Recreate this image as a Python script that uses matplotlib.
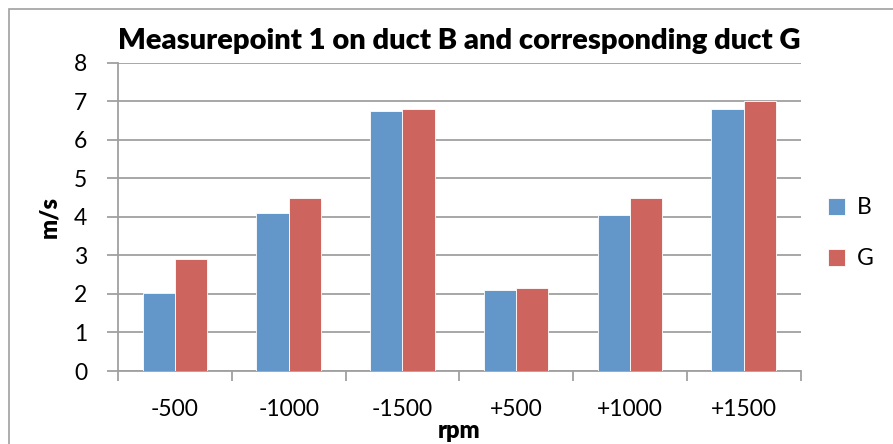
import matplotlib
matplotlib.use('Agg')
import matplotlib.pyplot as plt
from matplotlib.patches import Rectangle
import numpy as np

categories = ['-500', '-1000', '-1500', '+500', '+1000', '+1500']
b_values = [2.03, 4.10, 6.75, 2.10, 4.05, 6.80]
g_values = [2.90, 4.50, 6.80, 2.15, 4.50, 7.00]

blue = '#6396C9'
red = '#CD655E'
grey = '#A0A0A0'

plt.rcParams['font.family'] = ['Lato', 'DejaVu Sans']

fig = plt.figure(figsize=(8.93, 4.44), dpi=100)
ax = fig.add_axes([118 / 893, 1 - 371 / 444, (800.5 - 118) / 893, (371 - 62.7) / 444])

# outer chart border
fig.patches.append(Rectangle((9 / 893, -0.1), 1.2, 1.1 - 9 / 444,
                             transform=fig.transFigure, fill=False,
                             edgecolor=grey, linewidth=1.2))

x = np.arange(len(categories))
w = 0.283
ax.bar(x - w / 2, b_values, w, color=blue, edgecolor='white', linewidth=0.6, label='B', zorder=3)
ax.bar(x + w / 2, g_values, w, color=red, edgecolor='white', linewidth=0.6, label='G', zorder=3)

ax.set_xlim(-0.5, len(categories) - 0.5)
ax.set_ylim(0, 8)
ax.set_yticks(range(0, 9))
ax.yaxis.grid(True, color=grey, linewidth=1.3, zorder=0)
ax.set_axisbelow(True)

ax.set_xticks(np.arange(-0.5, len(categories), 1.0))
ax.set_xticklabels([])
ax.set_xticks(x, minor=True)
ax.set_xticklabels(categories, minor=True)
ax.tick_params(axis='x', which='major', length=7, width=1.3, color=grey, direction='out')
ax.tick_params(axis='x', which='minor', length=0, pad=20, labelsize=16.5)
ax.tick_params(axis='y', length=8, width=1.3, color=grey, direction='out', pad=14, labelsize=16.5)

for s in ['top', 'right']:
    ax.spines[s].set_visible(False)
for s in ['left', 'bottom']:
    ax.spines[s].set_color(grey)
    ax.spines[s].set_linewidth(1.3)

ax.set_title('Measurepoint 1 on duct B and corresponding duct G',
             fontsize=21, fontweight='heavy', pad=10)
ax.set_xlabel('rpm', fontsize=17, fontweight='heavy', labelpad=0)
ax.set_ylabel('m/s', fontsize=17, fontweight='heavy', labelpad=10)

ax.legend(loc='upper left', bbox_to_anchor=(1.01, 0.63), frameon=False,
          fontsize=16.5, handlelength=0.75, handleheight=0.75,
          labelspacing=1.3, handletextpad=0.5)

fig.savefig('out.png', dpi=100)
